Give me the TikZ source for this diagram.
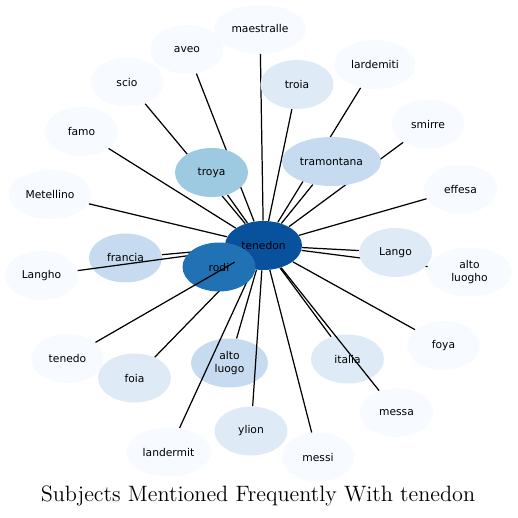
\documentclass[tikz,border=0pt]{standalone}
\usepackage{fontspec}
\usepackage{xcolor}
\usepackage{tikz}
\usetikzlibrary{shapes.geometric}
\newfontfamily\labelfont{DejaVu Sans}
\definecolor{blue0}{HTML}{F7FBFF}
\definecolor{blue1}{HTML}{DEEBF7}
\definecolor{blue2}{HTML}{C6DBEF}
\definecolor{blue3}{HTML}{9ECAE1}
\definecolor{blue5}{HTML}{2171B5}
\definecolor{blue6}{HTML}{08519C}
\pgfdeclarelayer{edges}
\pgfdeclarelayer{centre}
\pgfdeclarelayer{over}
\pgfsetlayers{edges,main,centre,over}
\tikzset{
  subject/.style={ellipse, fill=blue0, minimum width=1.46cm, minimum height=0.98cm,
    inner sep=0pt, align=center, font=\labelfont\fontsize{6.1}{7}\selectfont},
  link/.style={line width=0.7pt, black}
}
\begin{document}
\begin{tikzpicture}[x=0.02cm, y=-0.02cm]
    \useasboundingbox (0,0) rectangle (518,518);
    % Centre
    \begin{pgfonlayer}{centre}
    \node[subject, fill=blue6, minimum width=1.54cm] (tenedon) at (263.5,245.5) {tenedon};
    \node[subject, fill=blue5] (rodi) at (219,267) {rodi};
    \end{pgfonlayer}
    % Outer subjects
    \node[subject, minimum width=1.84cm] (maestralle) at (260,29) {maestralle};
    \node[subject] (aveo) at (187,49.5) {aveo};
    \node[subject] (scio) at (127,82) {scio};
    \node[subject] (famo) at (81.5,131.5) {famo};
    \node[subject, minimum width=1.66cm] (Metellino) at (50,194.5) {Metellino};
    \node[subject, fill=blue1] (troia) at (297,84.5) {troia};
    \node[subject, minimum width=1.62cm] (lardemiti) at (375,64.5) {lardemiti};
    \node[subject] (smirre) at (428,124) {smirre};
    \node[subject] (effesa) at (460.5,189) {effesa};
    \node[subject] (Langho) at (41.5,275.5) {Langho};
    \node[subject, fill=blue1] (Lango) at (395.5,252.5) {Lango};
    \node[subject, minimum width=1.7cm] (altoluogho) at (469.5,272) {alto\\luogho};
    \node[subject] (foya) at (443.5,345.5) {foya};
    \node[subject] (tenedo) at (67.5,358.5) {tenedo};
    \node[subject, fill=blue1] (foia) at (134.5,378) {foia};
    \node[subject, fill=blue1] (italia) at (347.5,359) {italia};
    \node[subject] (messa) at (396.5,412.5) {messa};
    \node[subject, fill=blue1] (ylion) at (251,431) {ylion};
    \node[subject] (messi) at (318,457) {messi};
    \node[subject, minimum width=1.7cm] (landermit) at (168.5,452) {landermit};
    % Inner subjects
    \node[subject, fill=blue3] (troya) at (211.5,172.5) {troya};
    \node[subject, fill=blue2, minimum width=1.98cm] (tramontana) at (331.5,161.5) {tramontana};
    \node[subject, fill=blue2] (francia) at (125.5,258) {francia};
    \node[subject, fill=blue2, minimum width=1.54cm] (altoluogo) at (229.5,363) {alto\\luogo};
    % Links
    \begin{pgfonlayer}{edges}
    \foreach \n in {maestralle,aveo,scio,famo,Metellino,troia,lardemiti,smirre,effesa,
      Lango,altoluogho,foya,foia,italia,messi,troya,tramontana,francia,altoluogo,rodi}
      \draw[link] (tenedon) -- (\n);
    \end{pgfonlayer}
    \foreach \n in {Langho,messa,landermit,ylion}
      \draw[link] (tenedon) -- (\n);
    \begin{pgfonlayer}{over}
    \draw[link] (tenedon) -- (tenedo);
    \end{pgfonlayer}
    % Title
    \node (title) at (258,496) {\fontsize{12.65}{14}\selectfont Subjects Mentioned Frequently With tenedon};
\end{tikzpicture}
\end{document}
